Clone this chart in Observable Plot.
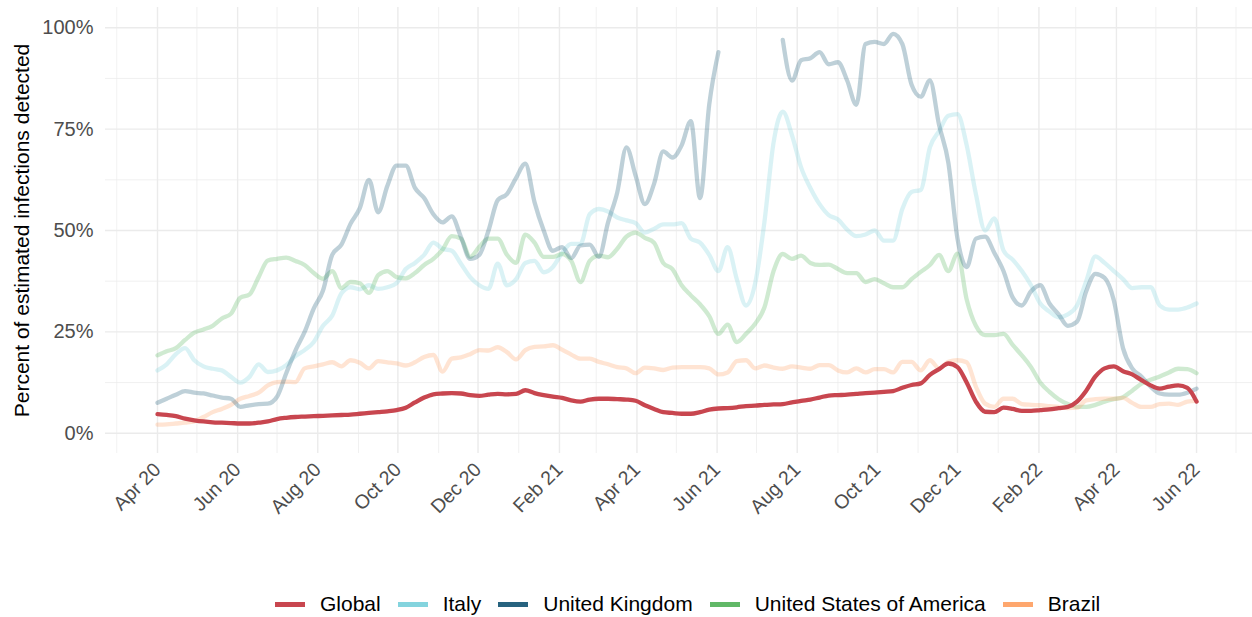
<!DOCTYPE html>
<html>
<head>
<meta charset="utf-8">
<script src="https://cdn.jsdelivr.net/npm/d3@7"></script>
<script src="https://cdn.jsdelivr.net/npm/@observablehq/plot@0.6"></script>
<style>
  body { margin: 0; background: #fff; font-family: "Liberation Sans", Arial, Helvetica, sans-serif; }
  #legend { display: flex; align-items: center; height: 32px; padding-left: 275px; font-size: 21px; color: #000; }
  .key { display: flex; align-items: center; margin-right: 17px; }
  .sw { width: 30px; height: 5px; margin-right: 15px; }
</style>
</head>
<body>
<div id="chart"></div>
<div id="legend"></div>
<script>
// ---- data (weekly readings, first week starting 2020-04-01) ----
const firstWeek = "2020-04-01";
const weekStepDays = 7;

const global = [4.7,4.5,4.2,3.6,3.2,2.9,2.7,2.6,2.5,2.4, 2.4,2.6,2.9,3.5,3.8,4.0,4.1,4.2,4.3,4.4,
  4.5,4.6,4.8,5.0,5.2,5.4,5.7,6.3,7.6,8.8, 9.6,9.8,9.9,9.8,9.4,9.2,9.5,9.7,9.6,9.7,
  10.6,9.9,9.4,9.0,8.7,8.1,7.8,8.3,8.5,8.5, 8.4,8.3,8.0,6.9,6.0,5.2,5.0,4.8,4.8,5.2,
  5.8,6.1,6.2,6.4,6.7,6.8,7.0,7.1,7.2,7.6, 8.0,8.3,8.8,9.3,9.4,9.5,9.7,9.9,10.0,10.2,
  10.4,11.2,11.9,12.3,14.4,15.8,17.2,16.3,12.5,7.8, 5.3,5.2,6.3,6.0,5.5,5.5,5.7,5.9,6.2,6.5,
  7.8,10.5,14.0,16.0,16.5,15.3,14.5,13.1,11.8,11.0, 11.5,11.8,11.2,7.8];

const italy = [15.5,17.0,19.5,21.0,18.0,16.5,15.9,15.5,13.9,12.5, 13.9,17.0,15.1,15.5,16.8,19.0,20.5,22.5,26.5,29.0,
  34.5,36.0,35.5,36.5,35.6,36.0,37.0,40.5,42.0,44.0, 47.0,45.5,45.0,41.8,38.5,36.5,35.6,41.8,36.5,38.0,
  42.0,42.5,39.7,41.0,44.5,46.7,46.7,54.0,55.3,54.7, 53.2,52.5,51.8,49.5,50.4,51.5,51.5,51.8,48.0,47.0,
  44.0,40.0,45.9,38.0,31.5,37.0,52.0,71.7,79.3,73.5, 65.5,60.5,56.5,53.8,52.7,50.2,48.6,49.0,50.0,47.5,
  47.5,55.3,59.5,60.0,70.5,74.5,78.3,78.7,71.0,59.0, 50.0,53.0,45.1,42.8,40.0,36.5,32.0,30.0,28.6,29.3,
  31.5,37.5,43.6,42.0,40.0,38.0,35.8,36.0,36.0,31.5, 30.5,30.5,31.0,32.0];

const uk = [7.5,8.5,9.5,10.4,10.0,9.8,9.3,8.8,8.5,6.5, 6.9,7.2,7.3,9.0,14.8,20.4,25.0,30.8,35.2,44.0,
  46.5,51.7,55.5,62.5,54.5,61.0,66.0,66.0,60.5,58.0, 54.0,52.0,53.5,48.4,43.0,44.0,50.0,57.5,59.0,63.0,
  66.5,57.0,50.0,45.0,45.9,43.2,46.3,46.5,43.5,52.0, 59.4,70.5,63.5,56.5,61.5,69.5,68.0,71.0,77.0,58.0,
  81.0,94.0,null,null,null,null,null,null,97.0,87.0, 92.0,92.5,94.0,91.0,91.5,87.0,81.0,96.0,96.5,96.0,
  98.5,96.0,86.0,83.0,87.0,76.0,66.8,48.0,41.0,48.0, 48.5,44.5,40.0,33.5,31.5,35.0,36.5,32.0,29.3,26.5,
  27.5,35.0,39.3,38.3,32.8,21.0,16.0,14.0,11.5,9.8, 9.5,9.5,10.0,11.0];

const usa = [19.2,20.2,21.0,23.0,24.8,25.6,26.5,28.3,29.5,33.4, 34.2,38.5,42.6,43.0,43.3,42.5,41.5,39.5,38.1,40.0,
  35.8,37.3,37.0,34.6,39.0,40.0,38.5,38.2,39.5,41.5, 43.0,45.3,48.6,48.0,43.5,46.0,48.0,48.0,44.0,42.0,
  49.0,47.0,43.5,43.5,44.2,42.5,37.3,42.5,43.8,43.4, 45.5,48.5,49.5,48.2,47.0,42.0,40.5,36.5,34.0,31.8,
  28.9,24.5,26.8,22.5,24.5,27.0,31.0,40.0,44.2,43.0, 43.8,42.0,41.5,41.6,40.5,39.5,39.5,37.3,38.0,37.0,
  36.0,36.0,38.0,39.8,41.5,44.0,40.0,44.3,33.0,26.5, 24.2,24.2,24.5,21.8,19.2,16.3,12.5,10.2,8.4,7.2,
  6.5,6.5,7.0,7.8,8.4,8.9,10.5,12.2,13.2,14.0, 15.0,15.9,15.8,14.8];

const brazil = [2.1,2.2,2.4,2.6,2.9,4.0,5.2,6.0,7.0,8.5, 9.2,10.0,11.8,12.6,12.7,12.6,16.0,16.5,17.0,17.5,
  16.5,18.0,17.4,16.0,17.8,17.5,17.2,16.7,17.5,18.8, 19.3,15.2,18.4,18.7,19.5,20.5,20.4,21.2,20.0,18.2,
  20.5,21.3,21.4,21.7,20.6,19.4,18.4,18.4,17.6,17.0, 16.3,16.0,14.8,16.2,16.0,15.6,16.2,16.3,16.3,16.3,
  16.0,14.5,15.0,17.8,18.0,16.0,16.7,16.2,15.9,16.5, 16.2,15.9,16.8,16.8,15.5,15.0,16.0,15.0,15.8,15.8,
  15.0,17.6,17.6,15.5,18.0,16.0,17.6,18.0,17.5,11.5, 7.3,6.5,8.5,8.5,7.2,7.0,6.9,6.7,6.5,6.2,
  6.3,8.1,8.4,8.5,8.5,8.7,7.5,6.5,6.5,7.2, 7.3,7.0,7.8,8.0];

const seriesNames = ["Global", "Italy", "United Kingdom", "United States of America", "Brazil"];
const seriesColors = ["#c8464f", "#84d4de", "#27637f", "#61b867", "#fea76e"];
const seriesValues = [global, italy, uk, usa, brazil];

const yTicks = [0, 25, 50, 75, 100];
const yMinor = [12.5, 37.5, 62.5, 87.5];
const xTicks = ["2020-04-01","2020-06-01","2020-08-01","2020-10-01","2020-12-01","2021-02-01","2021-04-01",
  "2021-06-01","2021-08-01","2021-10-01","2021-12-01","2022-02-01","2022-04-01","2022-06-01"];
const xMinor = ["2020-03-01","2020-05-01","2020-07-01","2020-09-01","2020-11-01","2021-01-01","2021-03-01",
  "2021-05-01","2021-07-01","2021-09-01","2021-11-01","2022-01-01","2022-03-01","2022-05-01","2022-07-01"];
const yTitle = "Percent of estimated infections detected";

// ---- build ----
const weeks = global.map((_, i) => d3.utcDay.offset(new Date(firstWeek), i * weekStepDays));
const rows = seriesNames.flatMap((name, s) =>
  seriesValues[s].map((v, i) => ({ name, date: weeks[i], value: v })));
const colorOf = Object.fromEntries(seriesNames.map((n, i) => [n, seriesColors[i]]));
const toDate = s => new Date(s);

const fadedOrder = ["Italy", "United States of America", "Brazil", "United Kingdom"];

const chart = Plot.plot({
  width: 1252,
  height: 588,
  marginLeft: 105,
  marginRight: 0,
  marginTop: 7,
  marginBottom: 135,
  style: { fontFamily: "Liberation Sans, Arial, Helvetica, sans-serif", background: "#fff" },
  x: { type: "utc", domain: [new Date(Date.UTC(2020, 1, 21, 10)), new Date(Date.UTC(2022, 6, 13, 14))] },
  y: { domain: [-5, 105] },
  marks: [
    Plot.ruleY(yMinor, { stroke: "#ebebeb", strokeWidth: 0.7 }),
    Plot.ruleX(xMinor.map(toDate), { stroke: "#ebebeb", strokeWidth: 0.7 }),
    Plot.ruleY(yTicks, { stroke: "#ebebeb", strokeWidth: 1.4 }),
    Plot.ruleX(xTicks.map(toDate), { stroke: "#ebebeb", strokeWidth: 1.4 }),
    Plot.axisY({ ticks: yTicks, tickFormat: d => d + "%", tickSize: 0, tickPadding: 12,
      fontSize: 20, color: "#4d4d4d", label: null }),
    Plot.axisX({ ticks: xTicks.map(toDate), tickFormat: d3.utcFormat("%b %y"), tickSize: 0, tickPadding: 13,
      tickRotate: -45, fontSize: 19.5, color: "#4d4d4d", label: null }),
    Plot.text([yTitle], { frameAnchor: "left", dx: -83, rotate: -90, fontSize: 21, fill: "#000", textAnchor: "middle" }),
    ...fadedOrder.map(n => Plot.line(rows.filter(d => d.name === n), {
      x: "date", y: "value", stroke: colorOf[n], strokeOpacity: 0.3, strokeWidth: 4.3,
      strokeLinejoin: "round", curve: "monotone-x"
    })),
    Plot.line(rows.filter(d => d.name === "Global"), {
      x: "date", y: "value", stroke: colorOf["Global"], strokeWidth: 4.3,
      strokeLinejoin: "round", curve: "monotone-x"
    })
  ]
});
document.getElementById("chart").append(chart);

const legend = document.getElementById("legend");
seriesNames.forEach((n, i) => {
  const k = document.createElement("div");
  k.className = "key";
  const sw = document.createElement("div");
  sw.className = "sw";
  sw.style.background = seriesColors[i];
  const t = document.createElement("span");
  t.textContent = n;
  k.append(sw, t);
  legend.append(k);
});
</script>
</body>
</html>
